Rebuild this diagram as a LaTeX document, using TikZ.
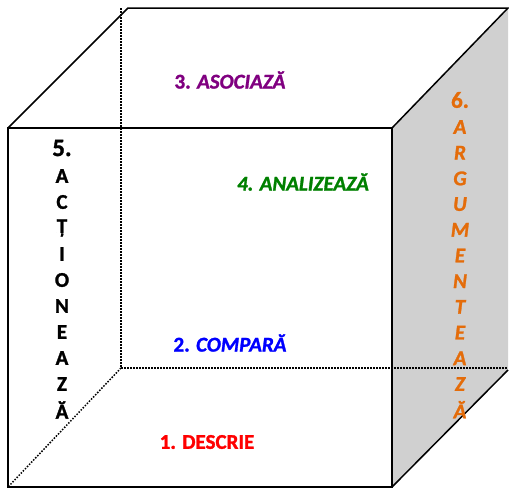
\documentclass[tikz,border=0pt]{standalone}
\usepackage{fontspec}
\setmainfont{Carlito}[BoldFeatures={FakeBold=1.3},BoldItalicFeatures={FakeBold=1.3}]
\definecolor{cpurple}{RGB}{128,0,128}
\definecolor{cgreen}{RGB}{0,128,0}
\definecolor{cblue}{RGB}{0,0,255}
\definecolor{cred}{RGB}{255,0,0}
\definecolor{corange}{RGB}{228,108,10}
\definecolor{cgray}{RGB}{208,208,208}
\begin{document}
\begin{tikzpicture}[x=1pt,y=-1pt,
  edge/.style={line width=1.5pt,line join=miter},
  hidden/.style={line width=1.5pt,dash pattern=on 1.5pt off 1.5pt},
  lbl/.style={font=\fontsize{21}{24}\selectfont\bfseries,inner sep=0pt,anchor=center},
  vl/.style={font=\fontsize{21}{24}\selectfont\bfseries,inner sep=0pt,anchor=center}]
\useasboundingbox (0,0) rectangle (509,488);
% vertices
\coordinate (A) at (8,128);
\coordinate (B) at (392,128);
\coordinate (C) at (392,487);
\coordinate (D) at (8,487);
\coordinate (E) at (128,8);
\coordinate (F) at (508,8);
\coordinate (G) at (508,370);
\coordinate (Ht) at (121,8);
\coordinate (H) at (121,368);
\coordinate (Hr) at (508,368);
% right face
\fill[cgray] (B) -- (F) -- (G) -- (C) -- cycle;
% hidden edges
\draw[hidden] (Ht) -- (H);
\draw[hidden] (H) -- (Hr);
\draw[hidden] (H) -- (D);
% visible edges
\draw[edge] (A) -- (B) -- (C) -- (D) -- cycle;
\draw[edge] (A) -- (E) -- (F) -- (B);
\draw[edge] (C) -- (G);
% labels
\node[lbl,text=cpurple] (t3) at (230,80) {3. \textit{ASOCIAZĂ}};
\node[lbl,text=cgreen] (t4) at (303,182) {\textit{4. ANALIZEAZĂ}};
\node[lbl,text=cblue] (t2) at (230,343) {2. \textit{COMPARĂ}};
\node[lbl,text=cred] (t1) at (207,442) {1. DESCRIE};
% 5. ACTIONEAZA
\node[vl,font=\fontsize{25}{28}\selectfont\bfseries] (n5) at (62,148) {5.};
\foreach \ch [count=\i] in {A,C,Ț,I,O,N,E,A,Z,Ă}
  \node[vl] (a\i) at (62,{176+26*(\i-1)}) {\ch};
% 6. ARGUMENTEAZA
\node[vl,text=corange,font=\fontsize{23}{26}\selectfont\bfseries] (n6) at (460,100) {6.};
\foreach \ch [count=\i] in {A,R,G,U,M,E,N,T,E,A,Z,Ă}
  \node[vl,text=corange,font=\fontsize{21}{24}\selectfont\bfseries\itshape] (b\i) at (460,{127+25.7*(\i-1)}) {\ch};
\end{tikzpicture}
\end{document}
